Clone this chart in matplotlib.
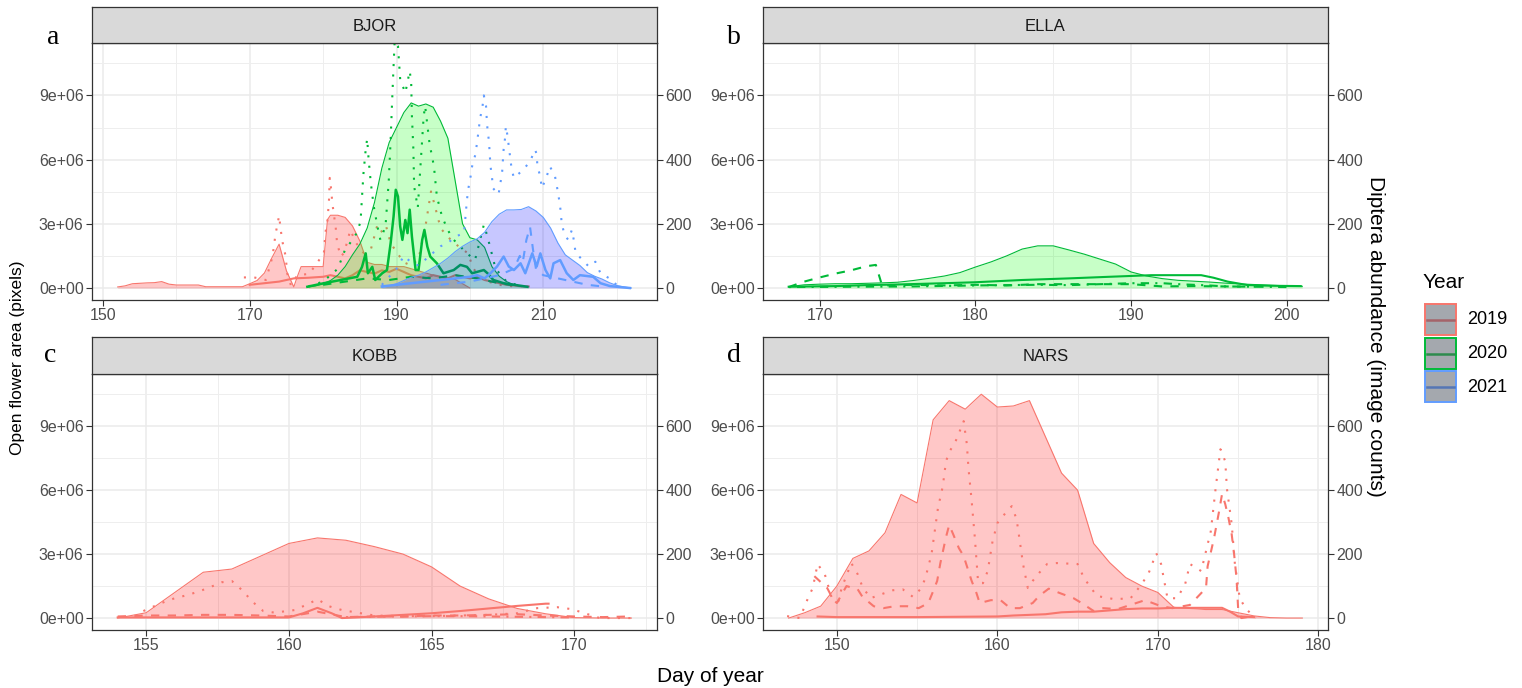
import matplotlib
matplotlib.use('Agg')
import matplotlib.pyplot as plt
from matplotlib.patches import Rectangle
from matplotlib.lines import Line2D
from matplotlib.ticker import FixedLocator, FuncFormatter

plt.rcParams['font.family'] = ['Liberation Sans', 'DejaVu Sans']

# ---------------- data ----------------
SCALE = 15000  # Diptera count -> flower-area units (secondary axis)

# BJOR
bjor_2019_area_day = [152,153,154,155,156,157,158,159,160,161,162,163,164,165,166,167,168,169,170,171,172,173,174,175,176,
                      176.5,177,178,179,180,180.6,181,182,183,184,185,186,187,188,189,190,191,192,193,194,195,196,197,198,199,200]
bjor_2019_area_val = [0.05,0.1,0.2,0.22,0.24,0.25,0.3,0.18,0.14,0.14,0.14,0.14,0.06,0.06,0.06,0.06,0.06,0.06,0.2,0.35,0.7,1.4,2.05,0.8,0.05,
                      0.55,1.0,1.0,1.0,1.0,3.2,3.4,3.4,3.3,2.9,2.2,1.2,1.1,1.1,1.0,1.0,1.0,0.9,0.8,0.7,0.6,0.5,0.45,0.4,0.2,0.0]
bjor_2019_dot_day = [169.2,170.6,172.2,173.1,173.5,173.8,174.0,174.2,174.4,174.9,175.1,175.6,176.5,178.1,180.1,180.3,180.6,180.8,180.9,181.1,
                     181.25,181.5,181.7,181.9,182.4,182.8,183.3,183.7,184.5,185.5,186.5,187.4,188.1,188.6,189.2,190.1,191,192,193,194,
                     194.7,195.3,195.7,196.2,197.4,198.7,199.7,200.5,201.5,202.5,204,206]
bjor_2019_dot_val = [33,33,25,98,166,202,225,186,150,98,46,9,40,44,108,171,212,275,343,306,
                     265,223,192,140,98,108,145,181,140,110,120,197,172,191,140,109,80,70,90,200,
                     301,250,212,181,150,125,109,60,30,20,10,5]
bjor_2019_sol_day = [170,172,174,176,178,180,181,182,183,184,185,186,187,188,189,190,191,192,193,194,195,196,197,198,199,200,
                     201,202,203,204,205,206,207,208]
bjor_2019_sol_val = [10,15,20,30,32,35,40,35,30,40,55,50,45,55,50,60,50,40,35,30,40,35,30,40,35,30,35,25,20,15,10,8,5,5]

bjor_2020_area_day = list(range(178, 209))
bjor_2020_area_val = [0.05,0.1,0.2,0.35,0.6,1.0,1.55,2.05,2.8,4.0,5.6,6.8,7.5,8.2,8.65,8.5,8.6,8.45,7.8,7.0,5.0,3.0,2.35,2.25,1.9,1.0,0.55,0.3,0.15,0.08,0.05]
bjor_2020_dot_day = [178,180,182,183,184,184.6,185.1,185.3,185.5,185.8,186.0,186.2,186.5,186.9,187.4,187.8,188.5,188.95,189.2,189.4,
                     189.6,189.75,190.2,190.5,191.2,191.8,192.0,192.1,192.3,192.4,192.9,193.7,193.9,194.5,195.1,195.5,196.2,197.0,197.8,198.7,
                     199.6,200.7,201.9,202.4,203.5,205,207]
bjor_2020_dot_val = [5,20,60,120,150,172,207,285,358,431,465,400,327,254,192,150,192,337,462,582,
                     692,770,754,650,608,676,640,535,431,317,250,535,567,450,379,285,223,180,150,129,
                     108,87,197,160,60,20,5]
bjor_2020_sol_day = [177.85,180.1,182.4,184.65,185.3,185.8,186.1,186.7,187.1,188.05,188.7,189.2,189.6,189.9,190.2,190.5,190.8,191.2,191.5,191.8,
                     192.1,192.6,193.0,193.5,193.8,194.2,194.6,195.5,196.4,197.8,198.7,199.6,200.3,201.9,202.4,203.2,204.6,207.8]
bjor_2020_sol_val = [4,15,25,35,66,108,46,66,25,46,56,140,223,306,285,192,150,212,171,244,
                     160,56,56,150,181,129,98,77,46,56,72,66,46,56,46,25,15,4]
bjor_2020_dsh_day = [180,183,186,189,192,195,198,201,204,207]
bjor_2020_dsh_val = [10,20,30,25,35,30,40,30,15,5]

bjor_2021_area_day = list(range(188, 223))
bjor_2021_area_val = [0.02,0.1,0.2,0.35,0.5,0.6,0.75,0.95,1.15,1.4,1.7,1.95,2.15,2.3,2.6,3.1,3.45,3.65,3.65,3.67,
                      3.8,3.6,3.3,2.8,2.1,1.55,1.3,1.05,0.72,0.55,0.42,0.25,0.12,0.05,0.0]
bjor_2021_dot_day = [188,190,191,192,193,194,195,196,197,198,199.2,199.6,199.8,200.1,200.3,200.75,201.0,201.2,201.4,201.7,
                     201.9,202.2,202.3,202.4,202.6,202.8,203.0,203.15,203.9,204.15,204.4,204.6,204.8,204.9,205.1,205.3,205.5,205.7,206.0,207.3,
                     208.2,208.9,209.1,209.2,209.6,209.8,210.4,210.9,211.6,211.9,212.2,212.4,212.5,212.9,213.4,213.9,214.2,214.4,216.2,217.1,
                     217.8,219.4,220.0]
bjor_2021_dot_val = [10,60,100,80,70,90,110,130,140,160,171,275,311,348,379,416,457,494,530,562,
                     600,567,525,494,457,381,348,311,291,325,363,433,468,504,478,442,405,369,343,369,
                     395,431,416,381,346,311,343,379,348,311,270,235,202,166,150,181,145,110,67,82,
                     46,25,9]
bjor_2021_sol_day = [188,190,192,194,196,198,200,201,202.0,202.8,203.7,204.6,205.3,206.0,206.9,207.55,208.5,209.1,209.6,210.3,
                     210.95,211.4,212.3,213.2,214.1,215.0,216.8,217.8,219.1,221.8]
bjor_2021_sol_val = [5,10,15,20,25,30,35,40,30,46,67,98,67,56,77,46,108,67,108,56,30,77,87,46,25,40,35,15,6,0]
bjor_2021_dsh_day = [196,200,204,206,206.8,207.2,207.7,208.2,208.6,209,210,212,214,216,218]
bjor_2021_dsh_val = [10,20,40,60,100,80,150,190,120,60,40,30,20,10,5]

# ELLA (2020)
ella_area_day = list(range(168, 202))
ella_area_val = [0.06,0.15,0.18,0.2,0.2,0.22,0.24,0.27,0.35,0.45,0.56,0.72,0.98,1.22,1.5,1.82,1.97,1.97,1.78,1.58,
                 1.35,1.12,0.75,0.56,0.44,0.36,0.32,0.28,0.23,0.19,0.16,0.13,0.1,0.08]
ella_sol_day = [168,171,173,175,178,180,183,186,188.6,191.3,193,194.5,195.3,196.2,197.5,199,200.9]
ella_sol_val = [4,6,9,11,15,18,25,30,35,40,40,40,32,20,9,7,6]
ella_dsh_day = [168,169,170,171,172,173,173.6,174,176,178,180,182,184,186,188,190,192,194,196,198]
ella_dsh_val = [3,20,33,45,55,68,72,8,10,8,10,8,12,12,12,12,5,6,5,4]
ella_dd_day = [168,172,176,180,184,186,188,190,192,193,195,196,198,200]
ella_dd_val = [3,4,5,8,10,9,12,15,15,12,8,5,4,3]

# KOBB (2019)
kobb_area_day = list(range(154, 173))
kobb_area_val = [0,0.25,1.2,2.15,2.3,2.9,3.5,3.76,3.65,3.35,3.0,2.4,1.5,0.9,0.45,0.2,0.02,0,0]
kobb_dot_day = [154.9,155.2,155.65,156.0,156.45,156.87,157.25,157.65,158.0,158.4,158.7,159.1,159.5,160.2,160.7,161.0,161.4,161.86,
                163,164,165,166,167,168,168.7,169.4,169.9,170.3,170.9,172]
kobb_dot_val = [22,34,51,62,72,84,97,112,116,84,53,22,17,25,45,59,37,25,8,6,6,8,10,15,31,34,28,17,0,0]
kobb_sol_day = [154,156,158,160,160.5,161,161.5,161.86,163,164,165,166,167,168,169,169.1]
kobb_sol_val = [2,2,2,2,15,32,15,0,5,10,15,22,30,38,45,45]
kobb_dsh_day = list(range(154, 173))
kobb_dsh_val = [5,8,8,10,10,8,5,20,3,5,5,8,8,10,12,8,5,3,5]
kobb_dd_day = [162,163,164,165,166,167,168,169,170]
kobb_dd_val = [3,4,5,6,6,5,4,3,2]

# NARS (2019)
nars_area_day = list(range(147, 180))
nars_area_val = [0,0.25,0.56,1.5,2.8,3.15,4.0,5.8,5.4,9.3,10.2,9.8,10.5,9.9,9.95,10.2,8.5,6.8,6.0,3.5,
                 2.6,1.9,1.5,1.2,0.5,0.45,0.4,0.4,0.25,0.1,0.02,0,0]
nars_dot_day = [146.9,147.7,148.2,148.5,148.8,149.25,149.7,150.1,150.3,150.9,151.3,151.6,152.1,152.8,153.5,154.1,154.75,155.2,155.5,155.9,
                156.3,156.6,156.8,157.0,157.4,157.7,157.9,158.1,158.2,158.4,158.6,158.8,159.1,159.4,159.7,160.0,160.5,160.9,161.2,161.4,
                161.6,161.9,162.2,162.6,163.1,163.7,165.0,165.4,166.2,167.3,168.3,168.9,169.4,169.9,170.2,170.6,171.2,171.7,172.0,172.7,
                173.3,173.6,173.9,174.2,174.3,174.6,174.8,175.1,175.5,176.1]
nars_dot_val = [6,0,62,94,169,137,60,53,94,172,137,97,62,75,87,90,66,90,122,200,
                344,412,490,519,553,590,616,544,469,366,250,112,109,147,240,297,328,350,309,240,
                169,94,116,141,169,172,169,125,69,59,62,100,137,203,169,62,62,106,169,147,
                272,406,528,490,406,294,169,62,28,0]
nars_dsh_day = [148.6,149.4,149.75,150.0,150.6,151.3,151.6,152.3,152.9,153.6,154.4,155.1,155.7,156.0,156.25,156.45,156.8,157.0,157.25,157.6,
                157.9,158.2,158.4,158.7,158.9,159.6,160.2,160.8,161.4,162.2,162.6,163.2,163.9,164.75,165.25,166.0,166.6,167.5,169.2,170.2,
                170.9,172.0,172.7,173.0,173.1,173.5,173.8,174.0,174.2,174.4,174.6,174.75,174.9,175.0,175.2,175.9]
nars_dsh_val = [131,94,60,47,100,90,66,37,31,37,37,31,47,84,116,172,253,291,262,219,
                194,147,116,78,47,56,56,31,31,47,69,92,78,62,47,22,31,28,56,37,
                31,41,78,94,162,250,330,388,356,313,262,200,125,31,0,6]
nars_sol_day = [148.8,150,155,160,161,162,163,164,165,166,167,168,169,170,171,172,173,174,174.5,175,176]
nars_sol_val = [5,3,3,5,8,10,12,18,20,20,24,28,30,30,32,32,32,32,20,5,3]

years = ['2019', '2020', '2021']
line_cols = {'2019': '#F8766D', '2020': '#00BA38', '2021': '#619CFF'}
fill_cols = {'2019': '#FF0000', '2020': '#00FF00', '2021': '#0000FF'}
key_lines = {'2019': '#A5646A', '2020': '#2E8B4E', '2021': '#5576B5'}

# ---------------- figure ----------------
W, H = 1522, 688
fig = plt.figure(figsize=(W / 100, H / 100), dpi=100)

def frac(l, t, r, b):
    return [l / W, 1 - b / H, (r - l) / W, (b - t) / H]

YLIM = (-0.56e6, 11.45e6)
DOTTED = (0, (1, 4))
DASHED = (0, (4, 4))
DOTDASH = (0, (1, 3, 4, 3))


def panel(box, strip_box, title, xlim, xmaj, xmin, letter, letter_xy):
    l, t, r, b = box
    ax = fig.add_axes(frac(l, t, r, b))
    ax.set_facecolor('white')
    ax.set_xlim(*xlim)
    ax.set_ylim(*YLIM)
    ax.xaxis.set_major_locator(FixedLocator(xmaj))
    ax.xaxis.set_minor_locator(FixedLocator(xmin))
    ax.yaxis.set_major_locator(FixedLocator([0, 3e6, 6e6, 9e6]))
    ax.yaxis.set_minor_locator(FixedLocator([1.5e6, 4.5e6, 7.5e6, 10.5e6]))
    ax.yaxis.set_major_formatter(FuncFormatter(lambda v, p: f"{v:.0e}"))
    ax.grid(which='major', color='#EBEBEB', lw=1.1, zorder=0)
    ax.grid(which='minor', color='#EEEEEE', lw=0.7, zorder=0)
    ax.set_axisbelow(True)
    ax.tick_params(which='major', length=4, width=0.8, color='#333333',
                   labelcolor='#4D4D4D', labelsize=11.5, pad=2)
    ax.tick_params(which='minor', length=0)
    for s in ax.spines.values():
        s.set_color('#333333')
        s.set_linewidth(0.9)
    sec = ax.secondary_yaxis('right', functions=(lambda y: y / SCALE, lambda c: c * SCALE))
    sec.set_yticks([0, 200, 400, 600])
    sec.tick_params(length=4, width=0.8, color='#333333', labelcolor='#4D4D4D',
                    labelsize=11.5, pad=2)
    sec.spines['right'].set_visible(False)
    # strip
    sl, st, sr, sb = strip_box
    sax = fig.add_axes(frac(sl, st, sr, sb))
    sax.set_facecolor('#D9D9D9')
    sax.set_xticks([]); sax.set_yticks([])
    for s in sax.spines.values():
        s.set_color('#333333'); s.set_linewidth(0.9)
    sax.text(0.5, 0.47, title, ha='center', va='center', fontsize=12, color='#1A1A1A',
             transform=sax.transAxes)
    fig.text(letter_xy[0] / W, 1 - letter_xy[1] / H, letter, family='Liberation Serif',
             fontsize=20, ha='center', va='center', color='black')
    return ax


def area(ax, days, vals, year, z):
    v = [x * 1e6 for x in vals]
    ax.fill_between(days, 0, v, color=fill_cols[year], alpha=0.22, lw=0, zorder=z)
    ax.plot(days, v, color=line_cols[year], lw=0.8, zorder=z + 0.1)


def dip(ax, days, vals, year, ls, z, lw=1.5):
    ax.plot(days, [c * SCALE for c in vals], color=line_cols[year], lw=lw, ls=ls, zorder=z)


# panel a: BJOR
axa = panel((92, 43, 657, 300), (92, 7, 657, 43), 'BJOR', (148.5, 225.5),
            [150, 170, 190, 210], [160, 180, 200, 220], 'a', (53, 37))
area(axa, bjor_2019_area_day, bjor_2019_area_val, '2019', 2)
dip(axa, bjor_2019_sol_day, bjor_2019_sol_val, '2019', '-', 2.5)
dip(axa, bjor_2019_dot_day, bjor_2019_dot_val, '2019', DOTTED, 2.6)
area(axa, bjor_2020_area_day, bjor_2020_area_val, '2020', 3)
dip(axa, bjor_2020_dsh_day, bjor_2020_dsh_val, '2020', DASHED, 3.4)
dip(axa, bjor_2020_sol_day, bjor_2020_sol_val, '2020', '-', 3.5, lw=1.8)
dip(axa, bjor_2020_dot_day, bjor_2020_dot_val, '2020', DOTTED, 3.6)
area(axa, bjor_2021_area_day, bjor_2021_area_val, '2021', 4)
dip(axa, bjor_2021_dsh_day, bjor_2021_dsh_val, '2021', DASHED, 4.4)
dip(axa, bjor_2021_sol_day, bjor_2021_sol_val, '2021', '-', 4.5, lw=1.8)
dip(axa, bjor_2021_dot_day, bjor_2021_dot_val, '2021', DOTTED, 4.6)

# panel b: ELLA
axb = panel((763, 43, 1328, 300), (763, 7, 1328, 43), 'ELLA', (166.35, 202.65),
            [170, 180, 190, 200], [175, 185, 195], 'b', (734, 37))
area(axb, ella_area_day, ella_area_val, '2020', 2)
dip(axb, ella_dd_day, ella_dd_val, '2020', DOTDASH, 2.4)
dip(axb, ella_dsh_day, ella_dsh_val, '2020', DASHED, 2.5)
dip(axb, ella_sol_day, ella_sol_val, '2020', '-', 2.6)

# panel c: KOBB
axc = panel((92, 374, 657, 630), (92, 337, 657, 374), 'KOBB', (153.1, 172.9),
            [155, 160, 165, 170], [157.5, 162.5, 167.5, 172.5], 'c', (50, 356))
area(axc, kobb_area_day, kobb_area_val, '2019', 2)
dip(axc, kobb_dd_day, kobb_dd_val, '2019', DOTDASH, 2.4)
dip(axc, kobb_dsh_day, kobb_dsh_val, '2019', DASHED, 2.5)
dip(axc, kobb_sol_day, kobb_sol_val, '2019', '-', 2.6)
dip(axc, kobb_dot_day, kobb_dot_val, '2019', DOTTED, 2.7)

# panel d: NARS
axd = panel((763, 374, 1328, 630), (763, 337, 1328, 374), 'NARS', (145.4, 180.6),
            [150, 160, 170, 180], [155, 165, 175], 'd', (734, 356))
area(axd, nars_area_day, nars_area_val, '2019', 2)
dip(axd, nars_sol_day, nars_sol_val, '2019', '-', 2.5)
dip(axd, nars_dsh_day, nars_dsh_val, '2019', DASHED, 2.6)
dip(axd, nars_dot_day, nars_dot_val, '2019', DOTTED, 2.7)

# axis titles
fig.text(18 / W, 1 - 358 / H, 'Open flower area (pixels)', rotation=90, ha='center', va='center',
         fontsize=12.5, color='black')
fig.text(1375 / W, 1 - 336 / H, 'Diptera abundance (image counts)', rotation=270, ha='center',
         va='center', fontsize=15, color='black')
fig.text(710 / W, 1 - 676 / H, 'Day of year', ha='center', va='center', fontsize=15, color='black')

# legend
fig.text(1423 / W, 1 - 283 / H, 'Year', ha='left', va='center', fontsize=15, color='black')
key_tops = [304, 338, 371]
for yr, kt in zip(years, key_tops):
    fig.add_artist(Rectangle((1425 / W, 1 - (kt + 31) / H), 31 / W, 31 / H, transform=fig.transFigure,
                             facecolor='#A4A8AE', edgecolor=line_cols[yr], lw=1.4))
    fig.add_artist(Line2D([1427 / W, 1454 / W], [1 - (kt + 15.5) / H] * 2, transform=fig.transFigure,
                          color=key_lines[yr], lw=1.8))
    fig.text(1467 / W, 1 - (kt + 16) / H, yr, ha='left', va='center', fontsize=13, color='black')

fig.savefig('out.png', dpi=100)
